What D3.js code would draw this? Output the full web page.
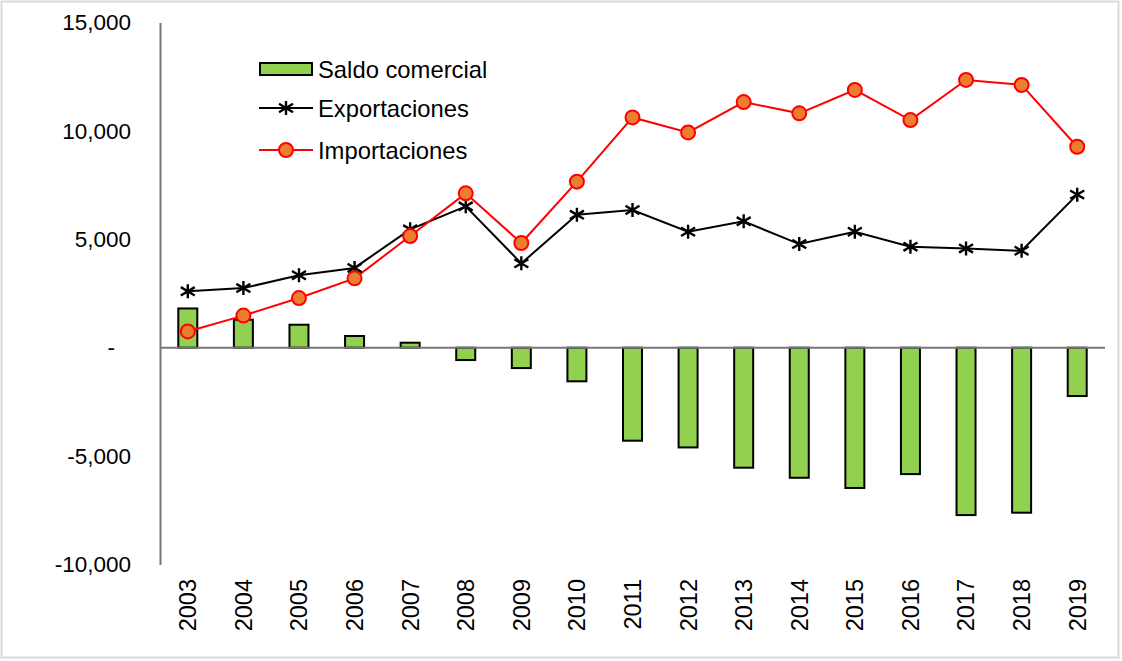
<!DOCTYPE html>
<html>
<head>
<meta charset="utf-8">
<script src="https://cdn.jsdelivr.net/npm/d3@7"></script>
<style>
  body { margin: 0; background: #fff; }
  svg text { font-family: "Liberation Sans", Arial, sans-serif; fill: #000; }
</style>
</head>
<body>
<div id="graph"></div>
<script>
var years = ["2003","2004","2005","2006","2007","2008","2009","2010","2011","2012","2013","2014","2015","2016","2017","2018","2019"];
var saldo = [1810, 1290, 1060, 540, 230, -570, -940, -1550, -4290, -4600, -5535, -6000, -6470, -5830, -7720, -7610, -2230];
var exportaciones = [2600, 2750, 3340, 3680, 5460, 6520, 3890, 6130, 6350, 5350, 5830, 4780, 5350, 4660, 4580, 4470, 7060];
var importaciones = [750, 1480, 2290, 3200, 5150, 7120, 4830, 7660, 10620, 9930, 11330, 10810, 11890, 10500, 12350, 12120, 9270];
var yTicks = [-10000, -5000, 0, 5000, 10000, 15000];
var legendNames = ["Saldo comercial", "Exportaciones", "Importaciones"];

var width = 1122, height = 661;
var svg = d3.select("#graph").append("svg")
  .attr("width", width)
  .attr("height", height);

// frame round the picture
svg.append("rect")
  .attr("x", 1.5).attr("y", 1.5)
  .attr("width", width - 5).attr("height", height - 5)
  .attr("fill", "none")
  .attr("stroke", "#d9d9d9")
  .attr("stroke-width", 2);

var x = d3.scaleBand().domain(years).range([160, 1105]);
var y = d3.scaleLinear().domain([-10000, 15000]).range([564.5, 22.5]);

// y axis, hyphen for negatives and "-" for zero
var yAxis = d3.axisLeft(y).tickValues(yTicks).tickSize(0).tickPadding(29)
  .tickFormat(function(d) { return d === 0 ? "-" : d3.format(",")(d).replace("\u2212", "-"); });
var gy = svg.append("g").attr("transform", "translate(160,0)").call(yAxis);
gy.select(".domain").attr("stroke", "#767676").attr("stroke-width", 2);
gy.selectAll("text").style("font-size", "22.5px");
gy.selectAll(".tick").filter(function(d) { return d === 0; }).select("text").attr("dx", "-16px");

// bars
var bw = 19;
svg.selectAll("rect.bar")
  .data(saldo)
  .enter().append("rect")
  .attr("class", "bar")
  .attr("x", function(d, i) { return x(years[i]) + x.bandwidth() / 2 - bw / 2; })
  .attr("y", function(d) { return y(Math.max(0, d)); })
  .attr("width", bw)
  .attr("height", function(d) { return Math.abs(y(d) - y(0)); })
  .attr("fill", "#92d050")
  .attr("stroke", "#000")
  .attr("stroke-width", 2);

// x axis on zero
svg.append("line")
  .attr("x1", 160).attr("x2", 1105)
  .attr("y1", y(0)).attr("y2", y(0))
  .attr("stroke", "#767676").attr("stroke-width", 2);

// year labels
var xAxis = d3.axisBottom(x).tickSize(0);
var gx = svg.append("g").attr("transform", "translate(0,579)").call(xAxis);
gx.select(".domain").remove();
gx.selectAll("text")
  .style("font-size", "23.5px")
  .attr("transform", "rotate(-90)")
  .attr("text-anchor", "end")
  .attr("x", 0).attr("y", 0).attr("dy", "0.36em");

function cx(i) { return x(years[i]) + x.bandwidth() / 2; }

var line = d3.line().x(function(d, i) { return cx(i); }).y(function(d) { return y(d); });

svg.append("path").datum(exportaciones)
  .attr("d", line).attr("fill", "none").attr("stroke", "#000").attr("stroke-width", 2);
svg.append("path").datum(importaciones)
  .attr("d", line).attr("fill", "none").attr("stroke", "#ff0000").attr("stroke-width", 2);

function star(g, px, py) {
  var s = 7;
  var p = "M" + (px - s) + "," + (py - s * 0.6) + "L" + (px + s) + "," + (py + s * 0.6) +
          "M" + (px - s) + "," + (py + s * 0.6) + "L" + (px + s) + "," + (py - s * 0.6) +
          "M" + px + "," + (py - s) + "L" + px + "," + (py + s);
  g.append("path").attr("d", p).attr("stroke", "#000").attr("stroke-width", 2.4).attr("fill", "none");
}

var stars = svg.append("g");
exportaciones.forEach(function(d, i) { star(stars, cx(i), y(d)); });

svg.selectAll("circle.imp")
  .data(importaciones)
  .enter().append("circle")
  .attr("class", "imp")
  .attr("cx", function(d, i) { return cx(i); })
  .attr("cy", function(d) { return y(d); })
  .attr("r", 7)
  .attr("fill", "#ed7d31")
  .attr("stroke", "#ff0000")
  .attr("stroke-width", 2);

// legend
var lg = svg.append("g");
var rows = [69, 108, 150];
lg.append("rect").attr("x", 260).attr("y", 63).attr("width", 52).attr("height", 12)
  .attr("fill", "#92d050").attr("stroke", "#000").attr("stroke-width", 2);
lg.append("line").attr("x1", 259).attr("x2", 313).attr("y1", rows[1]).attr("y2", rows[1])
  .attr("stroke", "#000").attr("stroke-width", 2);
star(lg, 286, rows[1]);
lg.append("line").attr("x1", 259).attr("x2", 313).attr("y1", rows[2]).attr("y2", rows[2])
  .attr("stroke", "#ff0000").attr("stroke-width", 2);
lg.append("circle").attr("cx", 286).attr("cy", rows[2]).attr("r", 7)
  .attr("fill", "#ed7d31").attr("stroke", "#ff0000").attr("stroke-width", 2);
lg.selectAll("text.leg")
  .data(legendNames)
  .enter().append("text")
  .attr("class", "leg")
  .attr("x", 318)
  .attr("y", function(d, i) { return rows[i]; })
  .attr("dy", "0.36em")
  .style("font-size", "23.8px")
  .text(function(d) { return d; });
</script>
</body>
</html>
